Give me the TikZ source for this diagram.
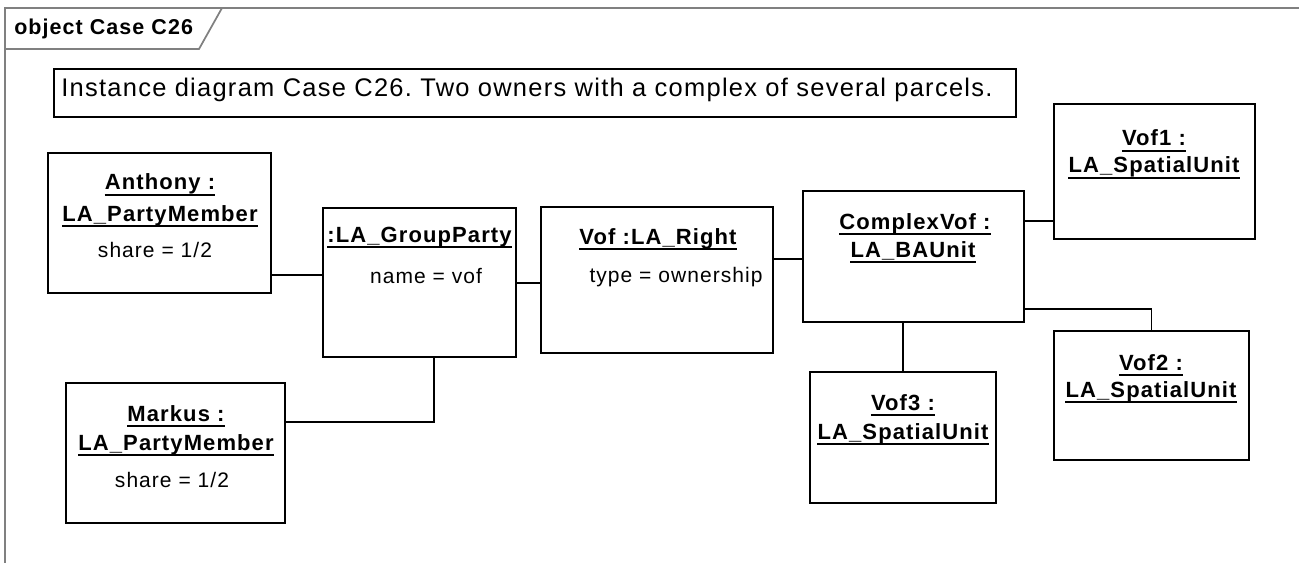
\documentclass[tikz,border=0pt]{standalone}
\usepackage{fontspec}
\setmainfont{Liberation Sans}
\newfontfamily\spacedfont[LetterSpace=5]{Liberation Sans}
\usetikzlibrary{calc}
\frenchspacing
\newcommand\objrect[5]{\node[objbox,minimum width={(#4-#2)*0.75pt},minimum height={(#5-#3)*0.75pt}] (#1) at ({(#2+#4)/2},{(#3+#5)/2}) {};}
\newcommand\objname[4]{\node[nm] (#1) at (#2,#3) {#4};\draw[ul] (#1.south west) -- (#1.south east);}
\begin{document}
\begin{tikzpicture}[x=0.75pt,y=-0.75pt,
  objbox/.style={draw=black,line width=1.3pt,inner sep=0,outer sep=0},
  nm/.style={font=\spacedfont\bfseries\fontsize{16.5}{20}\selectfont,anchor=base,inner sep=0,text depth=3.6pt},
  attr/.style={font=\spacedfont\fontsize{15.75}{19}\selectfont,anchor=base,inner sep=0},
  ul/.style={line width=1.1pt},
  conn/.style={draw=black,line width=1.1pt},
  frameline/.style={draw=black!50,line width=1.3pt}]
\useasboundingbox (0,0) rectangle (1299,563);
% frame
\draw[frameline] (5,563) -- (5,8) -- (1299,8);
\draw[frameline] (5,49) -- (199,49) -- (222,8);
\node[font=\spacedfont\bfseries\fontsize{16.1}{19}\selectfont,anchor=base west,inner sep=0] (title) at (14,35) {object Case C26};
% note
\objrect{note}{54}{69}{1016}{117}
\node[font=\spacedfont\fontsize{19.1}{23}\selectfont,anchor=base west,inner sep=0] (notetext) at (61,97) {Instance diagram Case C26. Two owners with a complex of several parcels.};
% boxes
\objrect{Anthony}{48}{153}{271}{293}
\objrect{GroupParty}{323}{208}{516}{357}
\objrect{Markus}{66}{383}{285}{523}
\objrect{VofRight}{541}{207}{773}{353}
\objrect{ComplexVof}{803}{191}{1024}{322}
\objrect{Vof1}{1054}{104}{1255}{239}
\objrect{Vof2}{1054}{331}{1249}{460}
\objrect{Vof3}{810}{372}{996}{503}
% texts
\objname{an1}{160}{190}{Anthony :}
\objname{an2}{160}{221}{LA\_PartyMember}
\node[attr] (an3) at (155,257) {share = 1/2};
\objname{gp1}{419.5}{242}{:LA\_GroupParty}
\node[attr] (gp2) at (426,283) {name = vof};
\objname{mk1}{176}{421}{Markus :}
\objname{mk2}{176}{450}{LA\_PartyMember}
\node[attr] (mk3) at (172,487) {share = 1/2};
\objname{vr1}{658}{244}{Vof :LA\_Right}
\node[attr] (vr2) at (676,282) {type = ownership};
\objname{cv1}{915}{229}{ComplexVof :}
\objname{cv2}{913}{257}{LA\_BAUnit}
\objname{v11}{1154}{146}{Vof1 :}
\objname{v12}{1154}{173}{LA\_SpatialUnit}
\objname{v21}{1151}{370}{Vof2 :}
\objname{v22}{1151}{397}{LA\_SpatialUnit}
\objname{v31}{903}{410}{Vof3 :}
\objname{v32}{903}{439}{LA\_SpatialUnit}
% connectors
\draw[conn] (Anthony.east |- 0,275) -- (GroupParty.west |- 0,275);
\draw[conn] (Markus.east |- 0,422) -| ($(GroupParty.south)+(14.5,0)$);
\draw[conn] (GroupParty.east |- 0,283) -- (VofRight.west |- 0,283);
\draw[conn] (VofRight.east |- 0,259) -- (ComplexVof.west |- 0,259);
\draw[conn] (ComplexVof.east |- 0,221) -- (Vof1.west |- 0,221);
\draw[conn] (Vof3.north) -- (Vof3.north |- ComplexVof.south);
\draw[conn] (ComplexVof.east |- 0,309) -| (Vof2.north);
\end{tikzpicture}
\end{document}
